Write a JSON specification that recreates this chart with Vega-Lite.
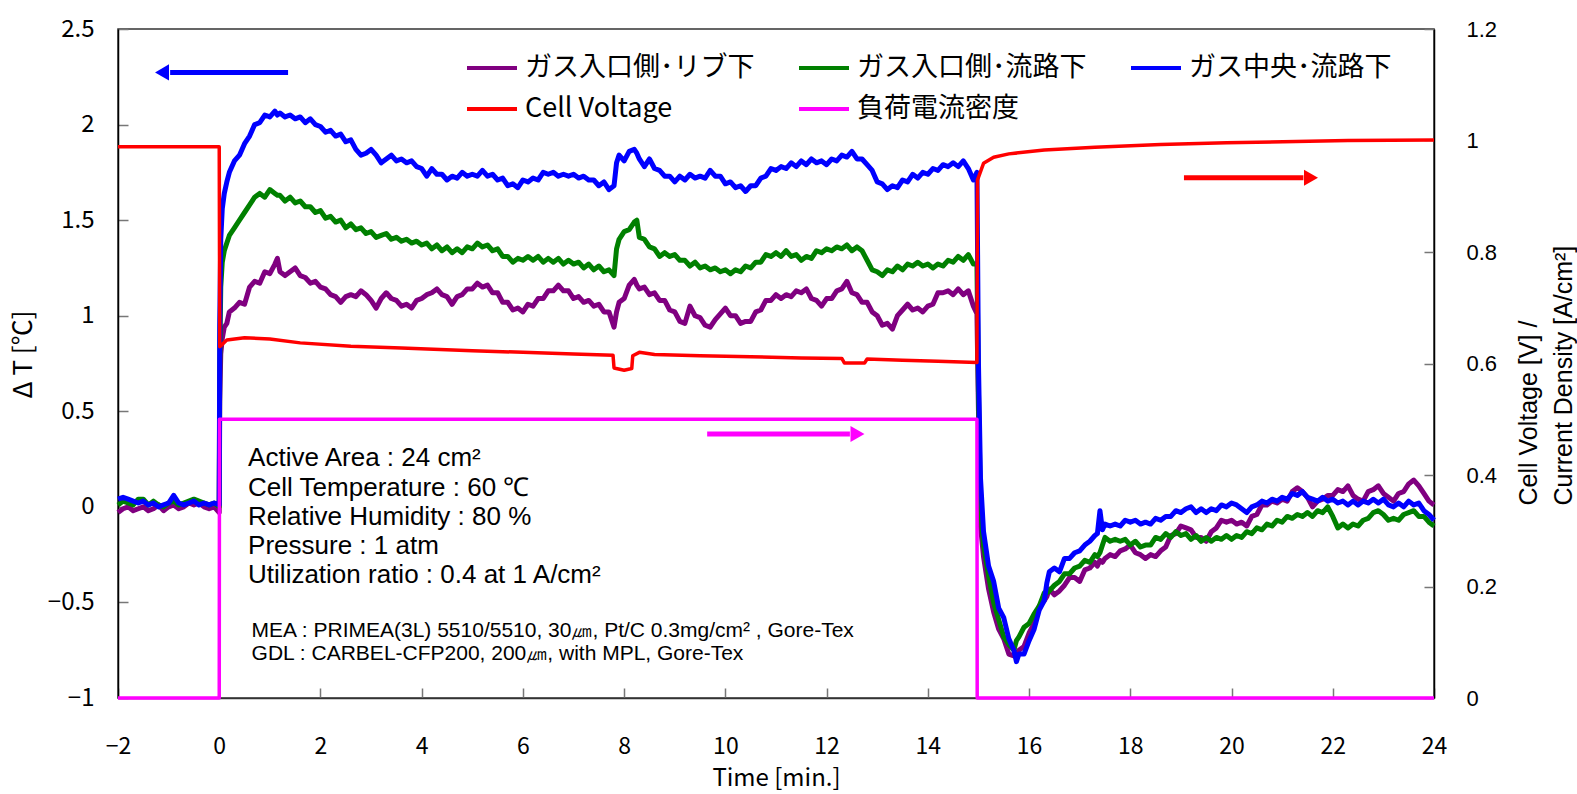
{
"$schema": "https://vega.github.io/schema/vega-lite/v6.json",
"width": 1316, "height": 669,
"autosize": {"type": "none"},
"padding": {"left": 118, "top": 29, "right": 143, "bottom": 96},
"background": "white",
"config": {"view": {"stroke": "#333", "strokeWidth": 1.5}, "axis": {"grid": false}},
"datasets": {
"temp": [
{"t":-2.0,"P":-0.03,"G":0.01,"B":0.04},{"t":-1.9,"P":-0.01,"G":0.03,"B":0.05},{"t":-1.8,"P":0.0,"G":0.02,"B":0.04},{"t":-1.7,"P":-0.02,"G":0.01,"B":0.03},{"t":-1.6,"P":-0.01,"G":0.04,"B":0.02},{"t":-1.5,"P":0.0,"G":0.04,"B":0.03},{"t":-1.4,"P":-0.02,"G":0.01,"B":0.01},{"t":-1.3,"P":-0.01,"G":0.03,"B":0.02},{"t":-1.2,"P":0.01,"G":0.01,"B":0.0},{"t":-1.1,"P":-0.02,"G":0.0,"B":0.01},{"t":-1.0,"P":0.0,"G":0.02,"B":0.02},{"t":-0.9,"P":0.01,"G":0.03,"B":0.06},{"t":-0.8,"P":-0.01,"G":0.01,"B":0.02},{"t":-0.7,"P":0.0,"G":0.02,"B":0.01},{"t":-0.6,"P":0.02,"G":0.03,"B":0.02},{"t":-0.5,"P":0.01,"G":0.04,"B":0.03},{"t":-0.4,"P":0.02,"G":0.03,"B":0.01},{"t":-0.3,"P":0.0,"G":0.02,"B":0.02},{"t":-0.2,"P":-0.01,"G":0.01,"B":0.01},{"t":-0.1,"P":0.0,"G":0.02,"B":0.02},{"t":0.0,"P":-0.03,"G":0.0,"B":0.01},
{"t":0.01,"P":0.55,"G":0.75,"B":0.95},{"t":0.03,"P":0.8,"G":1.15,"B":1.4},{"t":0.06,"P":0.88,"G":1.28,"B":1.56},{"t":0.1,"P":0.94,"G":1.34,"B":1.64},{"t":0.15,"P":0.96,"G":1.38,"B":1.7},
{"t":0.2,"P":1.02,"G":1.42,"B":1.75},{"t":0.3,"P":1.04,"G":1.46,"B":1.81},{"t":0.4,"P":1.07,"G":1.5,"B":1.84},{"t":0.5,"P":1.06,"G":1.54,"B":1.9},{"t":0.6,"P":1.15,"G":1.58,"B":1.94},{"t":0.7,"P":1.18,"G":1.62,"B":2.0},{"t":0.8,"P":1.17,"G":1.64,"B":2.01},{"t":0.9,"P":1.23,"G":1.62,"B":2.05},{"t":1.0,"P":1.22,"G":1.66,"B":2.04},{"t":1.1,"P":1.27,"G":1.64,"B":2.07},{"t":1.15,"P":1.3,"G":1.63,"B":2.05},{"t":1.2,"P":1.23,"G":1.63,"B":2.06},{"t":1.3,"P":1.21,"G":1.6,"B":2.04},{"t":1.4,"P":1.23,"G":1.62,"B":2.05},{"t":1.5,"P":1.25,"G":1.59,"B":2.03},{"t":1.6,"P":1.21,"G":1.6,"B":2.04},{"t":1.7,"P":1.2,"G":1.57,"B":2.01},{"t":1.8,"P":1.17,"G":1.57,"B":2.03},{"t":1.9,"P":1.18,"G":1.54,"B":2.0},
{"t":2.0,"P":1.15,"G":1.55,"B":1.99},{"t":2.1,"P":1.14,"G":1.51,"B":1.96},{"t":2.2,"P":1.11,"G":1.52,"B":1.97},{"t":2.3,"P":1.1,"G":1.49,"B":1.94},{"t":2.4,"P":1.07,"G":1.5,"B":1.95},{"t":2.5,"P":1.1,"G":1.46,"B":1.91},{"t":2.6,"P":1.11,"G":1.48,"B":1.92},{"t":2.7,"P":1.1,"G":1.45,"B":1.87},{"t":2.8,"P":1.13,"G":1.46,"B":1.84},{"t":2.9,"P":1.11,"G":1.43,"B":1.85},
{"t":3.0,"P":1.08,"G":1.44,"B":1.87},{"t":3.1,"P":1.04,"G":1.41,"B":1.84},{"t":3.2,"P":1.09,"G":1.42,"B":1.8},{"t":3.3,"P":1.12,"G":1.43,"B":1.82},{"t":3.4,"P":1.09,"G":1.4,"B":1.84},{"t":3.5,"P":1.08,"G":1.41,"B":1.81},{"t":3.6,"P":1.05,"G":1.39,"B":1.82},{"t":3.7,"P":1.06,"G":1.4,"B":1.8},{"t":3.8,"P":1.04,"G":1.38,"B":1.81},{"t":3.9,"P":1.08,"G":1.39,"B":1.78},
{"t":4.0,"P":1.09,"G":1.37,"B":1.77},{"t":4.1,"P":1.11,"G":1.38,"B":1.73},{"t":4.2,"P":1.12,"G":1.35,"B":1.77},{"t":4.3,"P":1.14,"G":1.37,"B":1.74},{"t":4.4,"P":1.11,"G":1.34,"B":1.74},{"t":4.5,"P":1.1,"G":1.36,"B":1.71},{"t":4.6,"P":1.06,"G":1.33,"B":1.73},{"t":4.7,"P":1.1,"G":1.35,"B":1.72},{"t":4.8,"P":1.11,"G":1.33,"B":1.75},{"t":4.9,"P":1.14,"G":1.36,"B":1.73},
{"t":5.0,"P":1.14,"G":1.35,"B":1.74},{"t":5.1,"P":1.17,"G":1.38,"B":1.73},{"t":5.2,"P":1.15,"G":1.36,"B":1.76},{"t":5.3,"P":1.16,"G":1.37,"B":1.73},{"t":5.4,"P":1.12,"G":1.34,"B":1.74},{"t":5.5,"P":1.12,"G":1.35,"B":1.71},{"t":5.6,"P":1.07,"G":1.31,"B":1.72},{"t":5.7,"P":1.07,"G":1.31,"B":1.68},{"t":5.8,"P":1.03,"G":1.28,"B":1.69},{"t":5.9,"P":1.04,"G":1.3,"B":1.67},
{"t":6.0,"P":1.02,"G":1.29,"B":1.71},{"t":6.1,"P":1.06,"G":1.31,"B":1.7},{"t":6.2,"P":1.05,"G":1.29,"B":1.72},{"t":6.3,"P":1.09,"G":1.31,"B":1.71},{"t":6.4,"P":1.09,"G":1.28,"B":1.75},{"t":6.5,"P":1.13,"G":1.3,"B":1.74},{"t":6.6,"P":1.13,"G":1.28,"B":1.75},{"t":6.7,"P":1.16,"G":1.3,"B":1.73},{"t":6.8,"P":1.13,"G":1.27,"B":1.74},{"t":6.9,"P":1.13,"G":1.29,"B":1.73},
{"t":7.0,"P":1.09,"G":1.27,"B":1.74},{"t":7.1,"P":1.1,"G":1.28,"B":1.72},{"t":7.2,"P":1.07,"G":1.25,"B":1.73},{"t":7.3,"P":1.08,"G":1.27,"B":1.71},{"t":7.4,"P":1.05,"G":1.24,"B":1.71},{"t":7.5,"P":1.06,"G":1.26,"B":1.68},{"t":7.6,"P":1.02,"G":1.23,"B":1.7},{"t":7.7,"P":1.02,"G":1.24,"B":1.66},{"t":7.8,"P":0.94,"G":1.21,"B":1.68},{"t":7.85,"P":1.02,"G":1.35,"B":1.8},{"t":7.9,"P":1.07,"G":1.4,"B":1.84},
{"t":8.0,"P":1.09,"G":1.44,"B":1.81},{"t":8.1,"P":1.16,"G":1.45,"B":1.86},{"t":8.2,"P":1.19,"G":1.49,"B":1.87},{"t":8.25,"P":1.16,"G":1.5,"B":1.85},{"t":8.3,"P":1.14,"G":1.41,"B":1.82},{"t":8.4,"P":1.15,"G":1.4,"B":1.78},{"t":8.5,"P":1.11,"G":1.36,"B":1.82},{"t":8.6,"P":1.12,"G":1.35,"B":1.77},{"t":8.7,"P":1.08,"G":1.31,"B":1.76},{"t":8.8,"P":1.08,"G":1.33,"B":1.73},{"t":8.9,"P":1.03,"G":1.31,"B":1.73},
{"t":9.0,"P":1.02,"G":1.32,"B":1.7},{"t":9.1,"P":0.97,"G":1.29,"B":1.73},{"t":9.2,"P":0.96,"G":1.29,"B":1.71},{"t":9.3,"P":1.05,"G":1.26,"B":1.74},{"t":9.4,"P":1.0,"G":1.28,"B":1.72},{"t":9.5,"P":0.99,"G":1.25,"B":1.73},{"t":9.6,"P":0.95,"G":1.26,"B":1.72},{"t":9.7,"P":0.94,"G":1.24,"B":1.76},{"t":9.8,"P":0.98,"G":1.25,"B":1.73},{"t":9.9,"P":1.01,"G":1.23,"B":1.73},
{"t":10.0,"P":1.04,"G":1.24,"B":1.69},{"t":10.1,"P":1.0,"G":1.22,"B":1.7},{"t":10.2,"P":1.0,"G":1.24,"B":1.67},{"t":10.3,"P":0.96,"G":1.23,"B":1.68},{"t":10.4,"P":0.97,"G":1.26,"B":1.65},{"t":10.5,"P":0.97,"G":1.25,"B":1.68},{"t":10.6,"P":1.02,"G":1.28,"B":1.68},{"t":10.7,"P":1.03,"G":1.28,"B":1.72},{"t":10.8,"P":1.08,"G":1.32,"B":1.73},{"t":10.9,"P":1.08,"G":1.31,"B":1.77},
{"t":11.0,"P":1.11,"G":1.33,"B":1.76},{"t":11.1,"P":1.09,"G":1.31,"B":1.78},{"t":11.2,"P":1.11,"G":1.34,"B":1.77},{"t":11.3,"P":1.1,"G":1.31,"B":1.8},{"t":11.4,"P":1.13,"G":1.32,"B":1.78},{"t":11.5,"P":1.12,"G":1.29,"B":1.81},{"t":11.6,"P":1.14,"G":1.31,"B":1.79},{"t":11.7,"P":1.09,"G":1.3,"B":1.82},{"t":11.8,"P":1.08,"G":1.34,"B":1.8},{"t":11.9,"P":1.05,"G":1.33,"B":1.81},
{"t":12.0,"P":1.09,"G":1.35,"B":1.79},{"t":12.1,"P":1.09,"G":1.34,"B":1.82},{"t":12.2,"P":1.13,"G":1.36,"B":1.81},{"t":12.3,"P":1.14,"G":1.35,"B":1.84},{"t":12.4,"P":1.18,"G":1.37,"B":1.83},{"t":12.5,"P":1.12,"G":1.34,"B":1.86},{"t":12.6,"P":1.11,"G":1.36,"B":1.82},{"t":12.7,"P":1.07,"G":1.34,"B":1.82},{"t":12.8,"P":1.07,"G":1.29,"B":1.79},{"t":12.9,"P":1.02,"G":1.24,"B":1.76},
{"t":13.0,"P":1.0,"G":1.23,"B":1.7},{"t":13.1,"P":0.95,"G":1.21,"B":1.69},{"t":13.2,"P":0.96,"G":1.24,"B":1.66},{"t":13.3,"P":0.93,"G":1.23,"B":1.68},{"t":13.4,"P":1.0,"G":1.26,"B":1.67},{"t":13.5,"P":1.03,"G":1.24,"B":1.71},{"t":13.6,"P":1.06,"G":1.27,"B":1.7},{"t":13.7,"P":1.03,"G":1.26,"B":1.74},{"t":13.8,"P":1.04,"G":1.28,"B":1.72},{"t":13.9,"P":1.02,"G":1.26,"B":1.75},
{"t":14.0,"P":1.05,"G":1.27,"B":1.74},{"t":14.1,"P":1.06,"G":1.25,"B":1.77},{"t":14.2,"P":1.12,"G":1.27,"B":1.76},{"t":14.3,"P":1.12,"G":1.26,"B":1.79},{"t":14.4,"P":1.13,"G":1.29,"B":1.78},{"t":14.5,"P":1.11,"G":1.28,"B":1.8},{"t":14.6,"P":1.14,"G":1.31,"B":1.78},{"t":14.7,"P":1.11,"G":1.29,"B":1.81},{"t":14.8,"P":1.13,"G":1.32,"B":1.77},{"t":14.9,"P":1.05,"G":1.27,"B":1.71},{"t":14.97,"P":1.01,"G":1.27,"B":1.75},
{"t":15.0,"P":0.5,"G":0.6,"B":0.75},{"t":15.04,"P":-0.1,"G":0.0,"B":0.15},
{"t":15.1,"P":-0.26,"G":-0.2,"B":-0.13},{"t":15.2,"P":-0.43,"G":-0.36,"B":-0.31},{"t":15.3,"P":-0.55,"G":-0.5,"B":-0.39},{"t":15.4,"P":-0.64,"G":-0.59,"B":-0.53},{"t":15.5,"P":-0.69,"G":-0.68,"B":-0.58},{"t":15.6,"P":-0.77,"G":-0.72,"B":-0.69},{"t":15.7,"P":-0.78,"G":-0.75,"B":-0.75},{"t":15.75,"P":-0.77,"G":-0.7,"B":-0.81},{"t":15.8,"P":-0.75,"G":-0.68,"B":-0.77},{"t":15.9,"P":-0.73,"G":-0.63,"B":-0.77},
{"t":16.0,"P":-0.66,"G":-0.61,"B":-0.7},{"t":16.1,"P":-0.61,"G":-0.56,"B":-0.64},{"t":16.2,"P":-0.52,"G":-0.52,"B":-0.54},{"t":16.3,"P":-0.49,"G":-0.45,"B":-0.49},{"t":16.35,"P":-0.47,"G":-0.45,"B":-0.4},{"t":16.4,"P":-0.43,"G":-0.44,"B":-0.34},{"t":16.5,"P":-0.46,"G":-0.41,"B":-0.32},{"t":16.6,"P":-0.44,"G":-0.39,"B":-0.34},{"t":16.7,"P":-0.41,"G":-0.35,"B":-0.27},{"t":16.8,"P":-0.37,"G":-0.35,"B":-0.27},{"t":16.9,"P":-0.37,"G":-0.32,"B":-0.24},
{"t":17.0,"P":-0.39,"G":-0.31,"B":-0.23},{"t":17.1,"P":-0.33,"G":-0.28,"B":-0.2},{"t":17.2,"P":-0.32,"G":-0.29,"B":-0.18},{"t":17.3,"P":-0.29,"G":-0.25,"B":-0.15},{"t":17.35,"P":-0.31,"G":-0.26,"B":-0.14},{"t":17.4,"P":-0.28,"G":-0.24,"B":-0.02},{"t":17.45,"P":-0.29,"G":-0.2,"B":-0.12},{"t":17.5,"P":-0.27,"G":-0.16,"B":-0.09},{"t":17.6,"P":-0.25,"G":-0.18,"B":-0.1},{"t":17.7,"P":-0.26,"G":-0.17,"B":-0.09},{"t":17.8,"P":-0.23,"G":-0.18,"B":-0.1},{"t":17.9,"P":-0.22,"G":-0.17,"B":-0.07},
{"t":18.0,"P":-0.2,"G":-0.2,"B":-0.08},{"t":18.1,"P":-0.24,"G":-0.18,"B":-0.07},{"t":18.2,"P":-0.25,"G":-0.21,"B":-0.09},{"t":18.3,"P":-0.27,"G":-0.2,"B":-0.08},{"t":18.4,"P":-0.25,"G":-0.2,"B":-0.09},{"t":18.5,"P":-0.26,"G":-0.16,"B":-0.06},{"t":18.6,"P":-0.23,"G":-0.17,"B":-0.07},{"t":18.7,"P":-0.21,"G":-0.14,"B":-0.05},{"t":18.8,"P":-0.15,"G":-0.16,"B":-0.05},{"t":18.9,"P":-0.14,"G":-0.13,"B":-0.02},
{"t":19.0,"P":-0.1,"G":-0.15,"B":-0.03},{"t":19.1,"P":-0.11,"G":-0.14,"B":-0.01},{"t":19.2,"P":-0.12,"G":-0.17,"B":0.0},{"t":19.3,"P":-0.16,"G":-0.15,"B":-0.03},{"t":19.4,"P":-0.16,"G":-0.18,"B":-0.01},{"t":19.5,"P":-0.18,"G":-0.16,"B":-0.03},{"t":19.6,"P":-0.13,"G":-0.18,"B":-0.01},{"t":19.7,"P":-0.11,"G":-0.16,"B":-0.02},{"t":19.8,"P":-0.07,"G":-0.17,"B":0.01},{"t":19.9,"P":-0.08,"G":-0.15,"B":0.0},
{"t":20.0,"P":-0.07,"G":-0.17,"B":0.02},{"t":20.1,"P":-0.09,"G":-0.15,"B":0.01},{"t":20.2,"P":-0.08,"G":-0.16,"B":-0.01},{"t":20.3,"P":-0.1,"G":-0.13,"B":-0.03},{"t":20.4,"P":-0.05,"G":-0.14,"B":0.0},{"t":20.5,"P":-0.04,"G":-0.11,"B":0.01},{"t":20.6,"P":0.01,"G":-0.12,"B":0.03},{"t":20.7,"P":0.01,"G":-0.09,"B":0.02},{"t":20.8,"P":0.03,"G":-0.1,"B":0.04},{"t":20.9,"P":0.02,"G":-0.07,"B":0.03},
{"t":21.0,"P":0.04,"G":-0.08,"B":0.05},{"t":21.1,"P":0.03,"G":-0.05,"B":0.04},{"t":21.2,"P":0.08,"G":-0.06,"B":0.07},{"t":21.3,"P":0.1,"G":-0.04,"B":0.06},{"t":21.4,"P":0.08,"G":-0.05,"B":0.08},{"t":21.5,"P":0.05,"G":-0.03,"B":0.05},{"t":21.6,"P":0.0,"G":-0.05,"B":0.04},{"t":21.7,"P":0.03,"G":-0.02,"B":0.03},{"t":21.8,"P":0.04,"G":-0.03,"B":0.05},{"t":21.9,"P":0.06,"G":0.0,"B":0.03},
{"t":22.0,"P":0.06,"G":-0.05,"B":0.04},{"t":22.1,"P":0.09,"G":-0.11,"B":0.02},{"t":22.2,"P":0.08,"G":-0.09,"B":0.03},{"t":22.3,"P":0.11,"G":-0.11,"B":0.01},{"t":22.4,"P":0.06,"G":-0.09,"B":0.03},{"t":22.5,"P":0.04,"G":-0.1,"B":0.01},{"t":22.6,"P":0.03,"G":-0.07,"B":0.03},{"t":22.7,"P":0.08,"G":-0.06,"B":0.02},{"t":22.8,"P":0.09,"G":-0.03,"B":0.04},{"t":22.9,"P":0.11,"G":-0.02,"B":0.02},
{"t":23.0,"P":0.07,"G":-0.04,"B":0.04},{"t":23.1,"P":0.05,"G":-0.07,"B":0.01},{"t":23.2,"P":0.03,"G":-0.06,"B":0.0},{"t":23.3,"P":0.07,"G":-0.07,"B":0.02},{"t":23.4,"P":0.08,"G":-0.04,"B":0.0},{"t":23.5,"P":0.12,"G":-0.03,"B":0.03},{"t":23.6,"P":0.14,"G":-0.02,"B":0.01},{"t":23.7,"P":0.11,"G":-0.05,"B":0.02},{"t":23.8,"P":0.07,"G":-0.05,"B":-0.02},{"t":23.9,"P":0.03,"G":-0.08,"B":-0.04},{"t":24.0,"P":0.01,"G":-0.1,"B":-0.07}
],
"elec": [
{"s":"V","t":-2,"v":0.989},{"s":"V","t":0,"v":0.989},{"s":"V","t":0.01,"v":0.63},{"s":"V","t":0.15,"v":0.642},{"s":"V","t":0.5,"v":0.646},{"s":"V","t":1.0,"v":0.644},{"s":"V","t":1.6,"v":0.637},{"s":"V","t":2.6,"v":0.631},{"s":"V","t":3.6,"v":0.628},{"s":"V","t":5.0,"v":0.623},{"s":"V","t":6.0,"v":0.62},{"s":"V","t":7.0,"v":0.617},{"s":"V","t":7.78,"v":0.615},{"s":"V","t":7.8,"v":0.592},{"s":"V","t":8.0,"v":0.588},{"s":"V","t":8.15,"v":0.591},{"s":"V","t":8.17,"v":0.614},{"s":"V","t":8.3,"v":0.62},{"s":"V","t":8.6,"v":0.616},{"s":"V","t":9.5,"v":0.614},{"s":"V","t":10.5,"v":0.612},{"s":"V","t":11.5,"v":0.61},{"s":"V","t":12.3,"v":0.609},{"s":"V","t":12.35,"v":0.601},{"s":"V","t":12.75,"v":0.601},{"s":"V","t":12.8,"v":0.608},{"s":"V","t":13.5,"v":0.606},{"s":"V","t":14.2,"v":0.604},{"s":"V","t":14.97,"v":0.602},{"s":"V","t":14.98,"v":0.929},{"s":"V","t":15.1,"v":0.959},{"s":"V","t":15.3,"v":0.97},{"s":"V","t":15.6,"v":0.976},{"s":"V","t":16.3,"v":0.983},{"s":"V","t":17.3,"v":0.988},{"s":"V","t":18.6,"v":0.993},{"s":"V","t":19.9,"v":0.996},{"s":"V","t":22.3,"v":1.0},{"s":"V","t":24,"v":1.001},
{"s":"J","t":-2,"v":0},{"s":"J","t":0,"v":0},{"s":"J","t":0.005,"v":0.5},{"s":"J","t":14.97,"v":0.5},{"s":"J","t":14.975,"v":0},{"s":"J","t":24,"v":0}
],
"arrows": [
{"s":"B","t":-0.97,"t2":1.36,"v":2.273},{"s":"V","t":19.06,"t2":21.42,"v":1.722},{"s":"J","t":9.64,"t2":12.46,"v":0.381}
],
"heads": [
{"s":"B","t":-1.13,"v":2.273},{"s":"V","t":21.57,"v":1.722},{"s":"J","t":12.61,"v":0.381}
],
"notes1": [
{"t":0.57,"v":0.255,"text":"Active Area : 24 cm²"},{"t":0.57,"v":0.098,"text":"Cell Temperature : 60 ℃"},{"t":0.57,"v":-0.054,"text":"Relative Humidity : 80 %"},{"t":0.57,"v":-0.205,"text":"Pressure : 1 atm"},{"t":0.57,"v":-0.357,"text":"Utilization ratio : 0.4 at 1 A/cm²"}
],
"notes2": [
{"t":0.64,"v":-0.65,"text":"MEA : PRIMEA(3L) 5510/5510, 30㎛, Pt/C 0.3mg/cm² , Gore-Tex"},{"t":0.64,"v":-0.77,"text":"GDL : CARBEL-CFP200, 200㎛, with MPL, Gore-Tex"}
]
},
"encoding": {
"x": {"field": "t", "type": "quantitative", "scale": {"domain": [-2, 24], "nice": false, "zero": false},
"axis": {"values": [-2,0,2,4,6,8,10,12,14,16,18,20,22,24], "format": "~g", "labelFont": "Noto Sans CJK JP", "labelFontSize": 23, "labelColor": "#000", "labelPadding": 47, "labelFlush": false, "tickSize": -10, "tickColor": "#777", "tickWidth": 1.5, "domainColor": "#333", "domainWidth": 1.5, "title": "Time [min.]", "titleFont": "Noto Sans CJK JP", "titleFontSize": 24, "titleFontWeight": "normal", "titleColor": "#000", "titleY": 80, "titleBaseline": "middle"}}
},
"layer": [
{
"encoding": {"y": {"field": "v", "type": "quantitative", "scale": {"domain": [-1, 2.5], "nice": false, "zero": false},
"axis": {"orient": "left", "values": [-1,-0.5,0,0.5,1,1.5,2,2.5], "format": "~g", "labelFont": "Noto Sans CJK JP", "labelFontSize": 24, "labelColor": "#000", "labelPadding": 34, "labelFlush": false, "tickSize": -10, "tickColor": "#777", "tickWidth": 1.5, "domainColor": "#000", "domainWidth": 1.5, "title": "Δ T [℃]", "titleFont": "Noto Sans CJK JP", "titleFontSize": 26, "titleFontWeight": "normal", "titleColor": "#000", "titleAngle": 270, "titleX": -95, "titleY": 325, "titleAlign": "center", "titleBaseline": "middle"}}},
"layer": [
{"data": {"name": "temp"}, "transform": [{"fold": ["P", "G", "B"], "as": ["s", "v"]}],
"mark": {"type": "line", "strokeWidth": 5, "strokeJoin": "round"},
"encoding": {"color": {"field": "s", "type": "nominal",
"scale": {"domain": ["P","G","B","V","J"], "range": ["#800080","#008000","#0000ff","#ff0000","#ff00ff"]},
"legend": {"orient": "none", "direction": "horizontal", "legendX": 347, "legendY": 24, "columns": 3, "columnPadding": 42, "rowPadding": 11, "title": null, "symbolType": "stroke", "symbolSize": 2500, "symbolStrokeWidth": 4, "clipHeight": 30, "labelFont": "Noto Sans CJK JP", "labelFontSize": 27, "labelColor": "#000", "labelOffset": 6, "labelLimit": 400,
"labelExpr": "datum.label == 'P' ? 'ガス入口側･リブ下' : datum.label == 'G' ? 'ガス入口側･流路下' : datum.label == 'B' ? 'ガス中央･流路下' : datum.label == 'V' ? 'Cell Voltage' : '負荷電流密度'"}}}},
{"data": {"name": "arrows"}, "mark": {"type": "rule", "strokeWidth": 5},
"encoding": {"x2": {"field": "t2"}, "color": {"field": "s", "type": "nominal", "legend": null}}},
{"data": {"name": "heads"}, "transform": [{"filter": "datum.s == 'B'"}], "mark": {"type": "point", "shape": "triangle-left", "filled": true, "size": 260, "opacity": 1},
"encoding": {"color": {"field": "s", "type": "nominal", "legend": null}}},
{"data": {"name": "heads"}, "transform": [{"filter": "datum.s != 'B'"}], "mark": {"type": "point", "shape": "triangle-right", "filled": true, "size": 260, "opacity": 1},
"encoding": {"color": {"field": "s", "type": "nominal", "legend": null}}},
{"data": {"name": "notes1"}, "mark": {"type": "text", "align": "left", "baseline": "middle", "font": "Liberation Sans", "fontSize": 26, "color": "#000"},
"encoding": {"text": {"field": "text"}}},
{"data": {"name": "notes2"}, "mark": {"type": "text", "align": "left", "baseline": "middle", "font": "Liberation Sans", "fontSize": 21, "color": "#000"},
"encoding": {"text": {"field": "text"}}}
]
},
{
"data": {"name": "elec"},
"mark": {"type": "line", "strokeWidth": 3.5, "strokeJoin": "round"},
"encoding": {
"y": {"field": "v", "type": "quantitative", "scale": {"domain": [0, 1.2], "nice": false, "zero": false},
"axis": {"orient": "right", "values": [0,0.2,0.4,0.6,0.8,1,1.2], "format": "~g", "labelFont": "Liberation Sans", "labelFontSize": 22, "labelColor": "#000", "labelPadding": 42, "labelFlush": false, "tickSize": -10, "tickColor": "#777", "tickWidth": 1.5, "domainColor": "#000", "domainWidth": 1.5, "title": ["Cell Voltage [V] /", "Current Density [A/cm²]"], "titleFont": "Liberation Sans", "titleFontSize": 25, "titleFontWeight": "normal", "titleColor": "#000", "titleAngle": 270, "titleAlign": "left", "titleBaseline": "top", "titleX": 82, "titleY": 476, "titleLineHeight": 35}},
"color": {"field": "s", "type": "nominal", "legend": null}
}
}
],
"resolve": {"scale": {"y": "independent"}, "axis": {"y": "independent"}}
}
